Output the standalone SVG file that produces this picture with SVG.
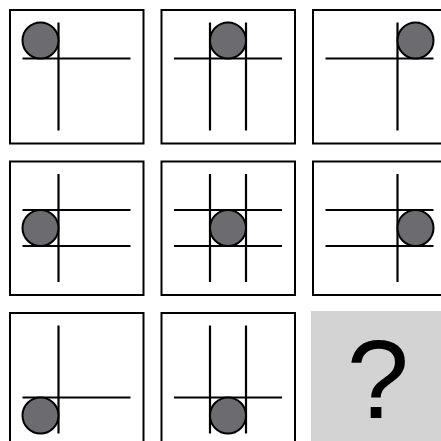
<svg xmlns="http://www.w3.org/2000/svg" width="441" height="441" viewBox="0 0 441 441">
  <style>
    .box { fill: #ffffff; stroke: #000000; stroke-width: 2; }
    .ln { stroke: #000000; stroke-width: 2.2; fill: none; }
    .dot { fill: #6b6b70; stroke: #000000; stroke-width: 2; }
    .q { font-family: "Liberation Sans", Arial, sans-serif; font-size: 112px; fill: #000000; text-anchor: middle; }
  </style>
  <defs>
    <rect id="frame" class="box" x="0" y="0" width="133.5" height="133.5"/>
    <line id="v1" class="ln" x1="48.5" y1="12.5" x2="48.5" y2="120.5"/>
    <line id="v2" class="ln" x1="84.5" y1="12.5" x2="84.5" y2="120.5"/>
    <line id="h1" class="ln" x1="12.5" y1="48.5" x2="120.5" y2="48.5"/>
    <line id="h2" class="ln" x1="12.5" y1="84.5" x2="120.5" y2="84.5"/>
  </defs>
  <rect x="0" y="0" width="441" height="441" fill="#ffffff"/>

  <g id="cell-1" transform="translate(10,10)">
    <use href="#frame"/>
    <use href="#v1"/><use href="#h1"/>
    <circle class="dot" cx="30.5" cy="30.5" r="18"/>
  </g>
  <g id="cell-2" transform="translate(161.5,10)">
    <use href="#frame"/>
    <use href="#v1"/><use href="#v2"/><use href="#h1"/>
    <circle class="dot" cx="66.5" cy="30.5" r="18"/>
  </g>
  <g id="cell-3" transform="translate(313,10)">
    <use href="#frame"/>
    <use href="#v2"/><use href="#h1"/>
    <circle class="dot" cx="102.5" cy="30.5" r="18"/>
  </g>

  <g id="cell-4" transform="translate(10,161.5)">
    <use href="#frame"/>
    <use href="#v1"/><use href="#h1"/><use href="#h2"/>
    <circle class="dot" cx="30.5" cy="66.5" r="18"/>
  </g>
  <g id="cell-5" transform="translate(161.5,161.5)">
    <use href="#frame"/>
    <use href="#v1"/><use href="#v2"/><use href="#h1"/><use href="#h2"/>
    <circle class="dot" cx="66.5" cy="66.5" r="18"/>
  </g>
  <g id="cell-6" transform="translate(313,161.5)">
    <use href="#frame"/>
    <use href="#v2"/><use href="#h1"/><use href="#h2"/>
    <circle class="dot" cx="102.5" cy="66.5" r="18"/>
  </g>

  <g id="cell-7" transform="translate(10,313)">
    <use href="#frame"/>
    <use href="#v1"/><use href="#h2"/>
    <circle class="dot" cx="30.5" cy="102.5" r="18"/>
  </g>
  <g id="cell-8" transform="translate(161.5,313)">
    <use href="#frame"/>
    <use href="#v1"/><use href="#v2"/><use href="#h2"/>
    <circle class="dot" cx="66.5" cy="102.5" r="18"/>
  </g>
  <g id="cell-9" transform="translate(311,311)">
    <rect x="0" y="0" width="135" height="135" fill="#d3d3d4"/>
    <text class="q" x="67" y="107">?</text>
  </g>

  <g id="connectors"/>
</svg>
